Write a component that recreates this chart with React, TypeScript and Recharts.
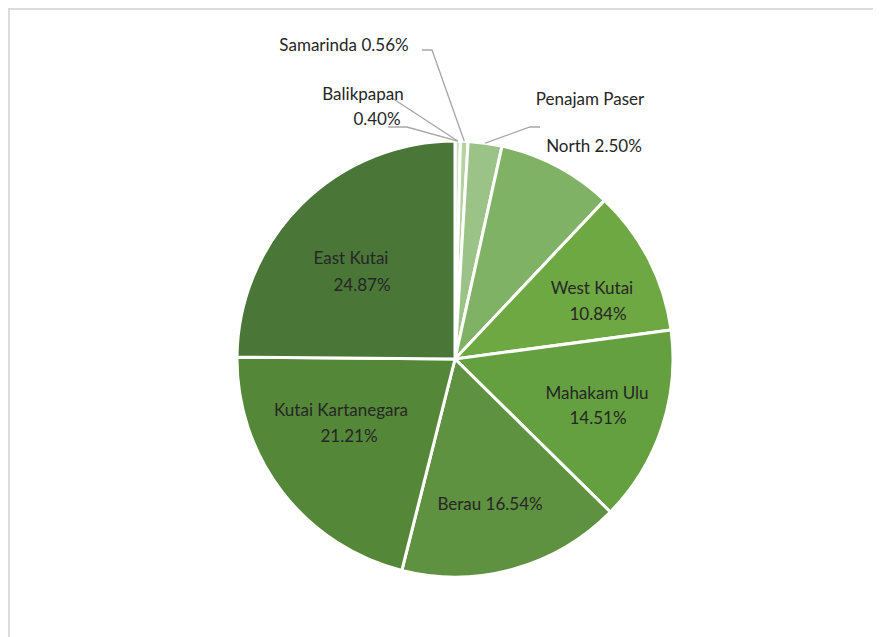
import React from "react";
import { PieChart, Pie, Cell } from "recharts";

const regions = [
  "Balikpapan",
  "Samarinda",
  "North Penajam Paser",
  "Paser",
  "West Kutai",
  "Mahakam Ulu",
  "Berau",
  "Kutai Kartanegara",
  "East Kutai",
];
const shares = [0.4, 0.56, 2.5, 8.57, 10.84, 14.51, 16.54, 21.21, 24.87];
const colors = [
  "#c9dfbd",
  "#b3d1a1",
  "#9cc387",
  "#80b265",
  "#6da843",
  "#64a040",
  "#5e9140",
  "#558739",
  "#4a7737",
];

const data = regions.map((name, i) => ({ name, value: shares[i] }));

type LabelLayout = {
  lines: { text: (pct: string) => string; dx: number; dy: number }[];
  leaders?: { x: number; y: number }[][];
};

// label layout, offsets relative to pie centre
const labelLayout: Record<string, LabelLayout> = {
  Balikpapan: {
    lines: [
      { text: () => "Balikpapan", dx: -92, dy: -266 },
      { text: (p) => p, dx: -78, dy: -241 },
    ],
    leaders: [
      [
        { x: -67, y: -232 },
        { x: -48, y: -232 },
      ],
      [{ x: -63, y: -261 }],
    ],
  },
  Samarinda: {
    lines: [{ text: (p) => "Samarinda " + p, dx: -111, dy: -315 }],
    leaders: [
      [
        { x: -33, y: -309 },
        { x: -23, y: -309 },
      ],
    ],
  },
  "North Penajam Paser": {
    lines: [
      { text: () => "Penajam Paser", dx: 135, dy: -261 },
      { text: (p) => "North " + p, dx: 139, dy: -214 },
    ],
    leaders: [
      [
        { x: 85, y: -232 },
        { x: 75, y: -232 },
      ],
    ],
  },
  Paser: { lines: [] },
  "West Kutai": {
    lines: [
      { text: () => "West Kutai", dx: 137, dy: -72 },
      { text: (p) => p, dx: 143, dy: -46 },
    ],
  },
  "Mahakam Ulu": {
    lines: [
      { text: () => "Mahakam Ulu", dx: 142, dy: 33 },
      { text: (p) => p, dx: 143, dy: 58 },
    ],
  },
  Berau: {
    lines: [{ text: (p) => "Berau " + p, dx: 35, dy: 144 }],
  },
  "Kutai Kartanegara": {
    lines: [
      { text: () => "Kutai Kartanegara", dx: -114, dy: 50 },
      { text: (p) => p, dx: -106, dy: 76 },
    ],
  },
  "East Kutai": {
    lines: [
      { text: () => "East Kutai", dx: -104, dy: -102 },
      { text: (p) => p, dx: -93, dy: -75 },
    ],
  },
};

const RAD = Math.PI / 180;

const renderLabel = (props: any) => {
  const { cx, cy, midAngle, outerRadius, name, value } = props;
  const layout = labelLayout[name];
  if (!layout) return null;
  const pct = Number(value).toFixed(2) + "%";
  const ax = cx + outerRadius * Math.cos(-midAngle * RAD);
  const ay = cy + outerRadius * Math.sin(-midAngle * RAD);
  return (
    <g>
      {(layout.leaders || []).map((pts, i) => (
        <polyline
          key={"l" + i}
          points={[...pts.map((p) => `${cx + p.x},${cy + p.y}`), `${ax},${ay}`].join(" ")}
          fill="none"
          stroke="#a6a6a6"
          strokeWidth={1.3}
        />
      ))}
      {layout.lines.map((ln, i) => (
        <text
          key={"t" + i}
          x={cx + ln.dx}
          y={cy + ln.dy}
          textAnchor="middle"
          dominantBaseline="central"
          fill="#262626"
          fontSize={17}
          fontFamily="Lato, 'Noto Sans', sans-serif"
        >
          {ln.text(pct)}
        </text>
      ))}
    </g>
  );
};

export default function App() {
  return (
    <div
      style={{
        width: 873,
        height: 629,
        borderTop: "2px solid #dcdcdc",
        borderLeft: "2px solid #dcdcdc",
        boxSizing: "border-box",
        background: "#fff",
      }}
    >
      <PieChart
        width={871}
        height={627}
        margin={{ top: 0, right: 0, bottom: 0, left: 0 }}
      >
        <Pie
          data={data}
          dataKey="value"
          nameKey="name"
          cx={445}
          cy={349}
          outerRadius={218}
          startAngle={90}
          endAngle={-270}
          stroke="#ffffff"
          strokeWidth={3}
          label={renderLabel}
          labelLine={false}
          isAnimationActive={false}
        >
          {data.map((d, i) => (
            <Cell key={d.name} fill={colors[i]} />
          ))}
        </Pie>
      </PieChart>
    </div>
  );
}
